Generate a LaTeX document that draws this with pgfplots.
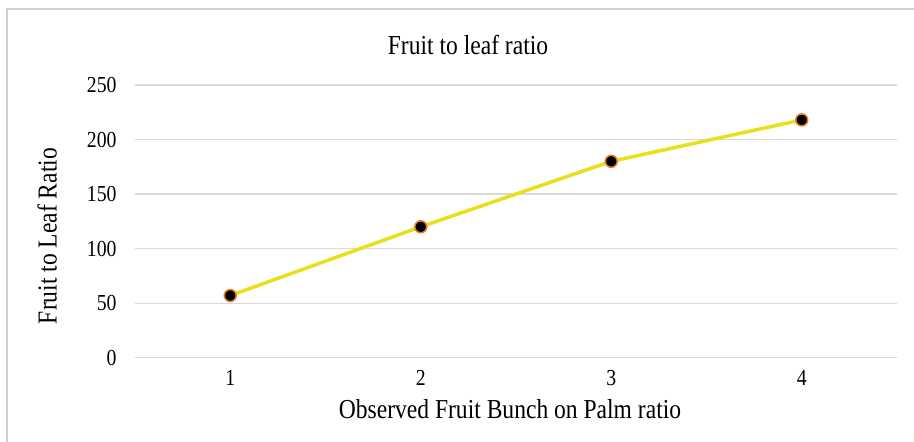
\documentclass[border=0pt]{standalone}
\usepackage{pgfplots}
\pgfplotsset{compat=1.18}
\usepackage{fontspec}
\setmainfont{Liberation Serif}[FakeStretch=0.86]
\definecolor{gridc}{HTML}{D9D9D9}
\definecolor{linec}{HTML}{E8E01A}
\definecolor{edgec}{HTML}{ED7D31}
\definecolor{framec}{HTML}{D0D0D0}
\begin{document}
\begin{tikzpicture}[x=1bp,y=1bp]
\useasboundingbox (-135,-84.3) rectangle (779,357.7);
\draw[framec, line width=2bp] (-128,-84.3) -- (-128,348.2) -- (779,348.2);
\begin{axis}[
  at={(0,0)}, anchor=south west,
  scale only axis,
  width=762bp, height=272.7bp,
  xmin=0.5, xmax=4.5, ymin=0, ymax=250,
  axis line style={draw=none},
  xtick={1,2,3,4}, ytick={0,50,100,150,200,250},
  major tick length=0pt,
  ymajorgrids, grid style={gridc, line width=1.2bp},
  tick label style={font=\fontsize{23}{27}\selectfont},
  /pgf/number format/assume math mode=true,
  yticklabel style={xshift=-15bp},
  xticklabel style={yshift=-9bp},
  clip=false,
]
\addplot[linec, line width=3.5bp, mark=*, mark size=6bp,
  mark options={fill=black, draw=edgec, line width=1.5bp}]
  coordinates {(1,57) (2,120) (3,180) (4,218)};
\end{axis}
\node[font=\fontsize{27.5}{32}\selectfont] at (333,312.7) {Fruit to leaf ratio};
\node[font=\fontsize{27.5}{32}\selectfont] at (375,-51) {Observed Fruit Bunch on Palm ratio};
\node[font=\fontsize{27.5}{32}\selectfont, rotate=90] at (-88,121.7) {Fruit to Leaf Ratio};
\end{tikzpicture}
\end{document}
